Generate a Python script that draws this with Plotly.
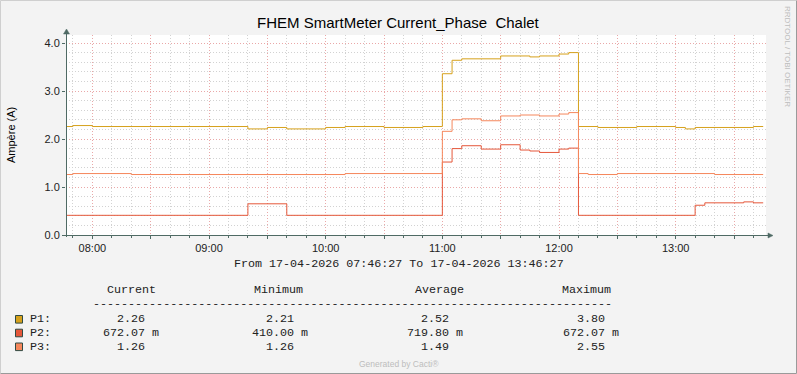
import plotly.graph_objects as go
import datetime as _dt

DATE = "2026-04-17"
RANGE_START = "07:46:27"
RANGE_END = "13:46:27"
DATA_END = "13:45:00"

SERIES_NAMES = ["P1", "P2", "P3"]
SERIES_COLORS = ["#D6A11C", "#E5573A", "#F5875C"]

P1_TIMES = ["07:46:27", "07:50", "08:00", "09:20", "09:30", "09:40", "10:00", "10:10", "10:30",
            "10:50", "11:00", "11:05", "11:10", "11:30", "11:45", "11:50", "12:00", "12:05",
            "12:10", "12:20", "12:40", "13:00", "13:05", "13:10", "13:40"]
P1_VALUES = [2.26, 2.28, 2.26, 2.21, 2.24, 2.21, 2.24, 2.26, 2.24,
             2.26, 3.36, 3.64, 3.67, 3.73, 3.71, 3.73, 3.77, 3.80,
             2.26, 2.24, 2.26, 2.24, 2.21, 2.24, 2.26]

P2_TIMES = ["07:46:27", "09:20", "09:40", "11:00", "11:05", "11:10", "11:20", "11:30", "11:40",
            "11:45", "11:50", "12:00", "12:05", "12:10", "13:10", "13:15", "13:35", "13:40"]
P2_VALUES = [0.41, 0.65, 0.41, 1.52, 1.80, 1.86, 1.79, 1.88, 1.77,
             1.75, 1.72, 1.79, 1.81, 0.41, 0.62, 0.67, 0.69, 0.67]

P3_TIMES = ["07:46:27", "07:50", "08:20", "10:10", "11:00", "11:05", "11:10", "11:20", "11:30",
            "11:40", "11:50", "12:00", "12:05", "12:10", "12:15", "12:30", "13:20"]
P3_VALUES = [1.26, 1.28, 1.26, 1.28, 2.16, 2.40, 2.42, 2.38, 2.48,
             2.50, 2.48, 2.52, 2.55, 1.28, 1.26, 1.28, 1.26]

Y_TICKS = [0, 1, 2, 3, 4]
Y_TICK_LABELS = ["0.0", "1.0", "2.0", "3.0", "4.0"]
X_TICK_LABELS = ["08:00", "09:00", "10:00", "11:00", "12:00", "13:00"]

STAT_HEADERS = ["Current", "Minimum", "Average", "Maximum"]
P1_STATS = ["2.26", "2.21", "2.52", "3.80"]
P2_STATS = ["672.07 m", "410.00 m", "719.80 m", "672.07 m"]
P3_STATS = ["1.26", "1.26", "1.49", "2.55"]

TITLE = "FHEM SmartMeter Current_Phase \u00a0Chalet"
Y_TITLE = "Ampère (A)"
X_FOOT = "From 17-04-2026 07:46:27 To 17-04-2026 13:46:27"
WATERMARK = "RRDTOOL / TOBI OETIKER"
GENERATED = "Generated by Cacti®"

# ---------------- layout geometry (pixels) ----------------
W, H = 797, 374
PL, PT, PW, PH = 66, 35, 700, 200
Y_MAX = 200 / 48.0
SANS = "Liberation Sans, Arial, sans-serif"
MONO = "Courier New, Liberation Mono, monospace"
MONO_SIZE = 11.7
CW = 7.03
AXIS_COLOR = "#4F6A64"


def fx(p):
    return (p - PL) / PW


def fy(p):
    return (PT + PH - p) / PH


def ts(t):
    if len(t) == 5:
        t = t + ":00"
    return f"{DATE} {t}"


fig = go.Figure()
all_times = [P1_TIMES, P2_TIMES, P3_TIMES]
all_values = [P1_VALUES, P2_VALUES, P3_VALUES]
for name, color, tt, vv in zip(SERIES_NAMES, SERIES_COLORS, all_times, all_values):
    xs = [ts(t) for t in tt] + [ts(DATA_END)]
    ys = list(vv) + [vv[-1]]
    fig.add_trace(go.Scatter(x=xs, y=ys, mode="lines", name=name,
                             line=dict(color=color, width=1, shape="hv"),
                             hoverinfo="skip", showlegend=False))

# x ticks every 30 minutes, labelled on the hour
t0 = _dt.datetime.fromisoformat(f"{DATE} 08:00:00")
tickvals, ticktext = [], []
for i in range(len(X_TICK_LABELS) * 2):
    tv = t0 + _dt.timedelta(minutes=30 * i)
    tickvals.append(tv.strftime("%Y-%m-%d %H:%M:%S"))
    ticktext.append(X_TICK_LABELS[i // 2] if i % 2 == 0 else "")

fig.update_xaxes(
    range=[ts(RANGE_START), ts(RANGE_END)], type="date",
    tickvals=tickvals, ticktext=ticktext,
    showgrid=True, gridcolor="#EAA8A8", griddash="1px,2px", gridwidth=1,
    minor=dict(dtick=600000, tick0=f"{DATE} 08:00:00", showgrid=True, gridcolor="#D2D2D2",
               griddash="1px,2px", ticks="outside", ticklen=2, tickcolor=AXIS_COLOR),
    ticks="outside", ticklen=3, tickcolor=AXIS_COLOR,
    showline=False, zeroline=False,
    tickfont=dict(family=SANS, size=11, color="#222222"),
    fixedrange=True,
)
fig.update_yaxes(
    range=[0, Y_MAX], tickvals=Y_TICKS, ticktext=Y_TICK_LABELS,
    showgrid=True, gridcolor="#EAA8A8", griddash="1px,2px", gridwidth=1,
    minor=dict(dtick=0.2, tick0=0, showgrid=True, gridcolor="#D2D2D2", griddash="1px,2px"),
    ticks="outside", ticklen=3, tickcolor=AXIS_COLOR,
    showline=False, zeroline=False,
    tickfont=dict(family=SANS, size=11, color="#222222"),
    fixedrange=True,
)

shapes = []
# outer frame
shapes.append(dict(type="line", xref="paper", yref="paper", x0=fx(0.5), x1=fx(796.5), y0=fy(0.5), y1=fy(0.5),
                   line=dict(color="#CFCFCF", width=1)))
shapes.append(dict(type="line", xref="paper", yref="paper", x0=fx(0.5), x1=fx(0.5), y0=fy(0.5), y1=fy(373.5),
                   line=dict(color="#CFCFCF", width=1)))
shapes.append(dict(type="line", xref="paper", yref="paper", x0=fx(796.5), x1=fx(796.5), y0=fy(0.5), y1=fy(373.5),
                   line=dict(color="#9A9A9A", width=1)))
shapes.append(dict(type="line", xref="paper", yref="paper", x0=fx(0.5), x1=fx(796.5), y0=fy(373.5), y1=fy(373.5),
                   line=dict(color="#9A9A9A", width=1)))
# axes
shapes.append(dict(type="line", xref="paper", yref="paper", x0=fx(PL + 0.5), x1=fx(PL + 0.5),
                   y0=fy(PT + PH + 2), y1=fy(31), line=dict(color=AXIS_COLOR, width=1)))
shapes.append(dict(type="line", xref="paper", yref="paper", x0=fx(PL - 3), x1=fx(770),
                   y0=fy(PT + PH + 0.5), y1=fy(PT + PH + 0.5), line=dict(color=AXIS_COLOR, width=1)))
# arrow heads
ax_x = fx(PL + 0.5)
shapes.append(dict(type="path", xref="paper", yref="paper",
                   path=f"M {fx(PL-2.5)} {fy(34)} L {ax_x} {fy(29)} L {fx(PL+3.5)} {fy(34)} Z",
                   fillcolor=AXIS_COLOR, line=dict(color=AXIS_COLOR, width=0.5)))
ax_y = fy(PT + PH + 0.5)
shapes.append(dict(type="path", xref="paper", yref="paper",
                   path=f"M {fx(768)} {fy(PT+PH-2)} L {fx(773)} {ax_y} L {fx(768)} {fy(PT+PH+3)} Z",
                   fillcolor=AXIS_COLOR, line=dict(color=AXIS_COLOR, width=0.5)))

annotations = []


def ann(text, x, y, size, family=SANS, color="#000000", xanchor="center", yanchor="middle", angle=0):
    annotations.append(dict(text=text, x=fx(x), y=fy(y), xref="paper", yref="paper", showarrow=False,
                            xanchor=xanchor, yanchor=yanchor, textangle=angle,
                            borderpad=0, borderwidth=0,
                            font=dict(family=family, size=size, color=color)))


ann(TITLE, 398.5, 22.5, 15)
ann(Y_TITLE, 11, 135, 11, angle=-90)
ann(WATERMARK, 788, 56, 8, color="#BDBDBD", angle=90)
ann(X_FOOT, 398.5, 263.5, MONO_SIZE, family=MONO, color="#222222")
ann(GENERATED, 398.5, 363.5, 8.5, color="#BDBDBD")

header_centers = [131, 278.5, 439.3, 586.2]
for h, cx in zip(STAT_HEADERS, header_centers):
    ann(h, cx, 290.0, MONO_SIZE, family=MONO, color="#222222")
ann("-" * 74, 352, 303.8, MONO_SIZE, family=MONO, color="#222222")

num_ends = [144.8, 293.8, 449.2, 605.2]
row_y = [319.3, 333.0, 346.8]
all_stats = [P1_STATS, P2_STATS, P3_STATS]
for name, color, stats, ry in zip(SERIES_NAMES, SERIES_COLORS, all_stats, row_y):
    shapes.append(dict(type="rect", xref="paper", yref="paper",
                       x0=fx(15.5), x1=fx(22.5), y0=fy(ry - 3.8), y1=fy(ry + 3.8),
                       fillcolor=color, line=dict(color="#2F4A44", width=1)))
    ann(name + ":", 29.5, ry, MONO_SIZE, family=MONO, color="#222222", xanchor="left")
    for s, e in zip(stats, num_ends):
        num = s.split(" ")[0]
        ann(s, e - len(num) * CW, ry, MONO_SIZE, family=MONO, color="#222222", xanchor="left")

fig.update_layout(
    width=W, height=H,
    margin=dict(l=PL, r=W - PL - PW, t=PT, b=H - PT - PH, pad=0),
    paper_bgcolor="#F3F3F3", plot_bgcolor="#FFFFFF",
    shapes=shapes, annotations=annotations,
    showlegend=False,
)

fig.write_html("out.html", config={"displayModeBar": False, "staticPlot": True},
               post_script="document.body.style.margin='0';document.body.style.padding='0';")
